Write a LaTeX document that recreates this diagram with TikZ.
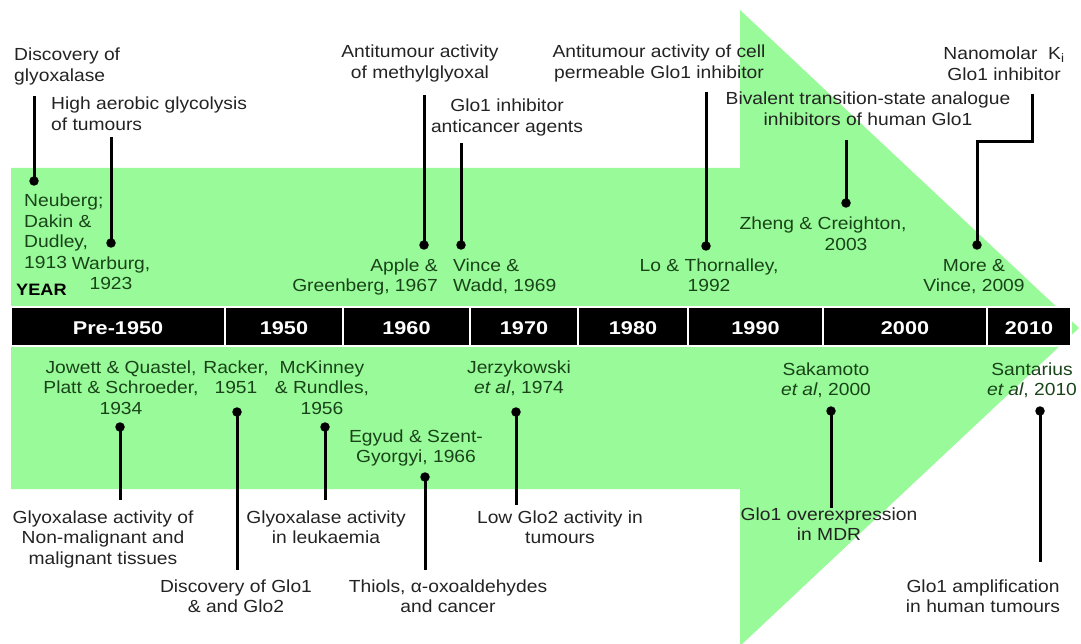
\documentclass[tikz,border=0pt]{standalone}
\usepackage{fontspec}
\setmainfont{Liberation Sans}[FakeStretch=1.1]
\newfontfamily\barfont{Liberation Sans}[FakeStretch=1.17]
\definecolor{arrowgreen}{RGB}{152,250,152}
\definecolor{ink}{RGB}{35,35,35}
\definecolor{gink}{RGB}{25,68,25}
\tikzset{
  lbl/.style={font=\fontsize{17.5}{20.5}\selectfont, align=center, inner sep=0pt, anchor=base, text=ink},
  glbl/.style={lbl, text=gink},
  two/.style={yshift=-20.5pt},
  three/.style={yshift=-41pt},
  four/.style={yshift=-61.5pt},
  seg/.style={rectangle, fill=black, draw=white, line width=1.5pt, minimum height=39pt, inner sep=0pt,
     text=white, font=\barfont\bfseries\fontsize{18.5}{20}\selectfont, text height=16pt, text depth=0pt},
  dotn/.style={circle, fill=black, minimum size=9.5pt, inner sep=0pt},
  stem/.style={line width=3pt, black}
}
\begin{document}
\begin{tikzpicture}[x=1pt,y=-1pt]
\useasboundingbox (0,0) rectangle (1081,644);
% green arrow
\fill[arrowgreen] (11,168) -- (740,168) -- (740,10) -- (1079,328) -- (740,646) -- (740,489) -- (11,489) -- cycle;
% timeline bar
\node[seg, minimum width=214pt] (s1) at (118,326.5) {Pre-1950};
\node[seg, minimum width=118pt] (s2) at (284,326.5) {1950};
\node[seg, minimum width=127pt] (s3) at (406.5,326.5) {1960};
\node[seg, minimum width=108pt] (s4) at (524,326.5) {1970};
\node[seg, minimum width=110pt] (s5) at (633,326.5) {1980};
\node[seg, minimum width=135pt] (s6) at (755.5,326.5) {1990};
\node[seg, minimum width=164pt] (s7) at (905,326.5) {2000};
\node[seg, minimum width=84pt] (s8) at (1029,326.5) {2010};
\node[lbl, anchor=base west, text=black, font=\bfseries\fontsize{16.5}{18}\selectfont] (year) at (16,295) {YEAR};

% ---- top events ----
\node[lbl, two, align=left, anchor=base west] (disc) at (14,61) {Discovery of\\glyoxalase};
\node[lbl, two, align=left, anchor=base west] (high) at (51,110) {High aerobic glycolysis\\of tumours};
\node[glbl, four, align=left, anchor=base west] (neub) at (24,207) {Neuberg;\\Dakin \&\\Dudley,\\1913};
\node[glbl, two] (warb) at (111,269) {Warburg,\\1923};
\node[lbl, two] (antim) at (420,58) {Antitumour activity\\of methylglyoxal};
\node[lbl, two] (gloinh) at (507,112) {Glo1 inhibitor\\anticancer agents};
\node[glbl, two, align=right, anchor=base east] (apple) at (438,271) {Apple \&\\Greenberg, 1967};
\node[glbl, two, align=left, anchor=base west] (vince) at (453,271) {Vince \&\\Wadd, 1969};
\node[lbl, two] (antic) at (659,58) {Antitumour activity of cell\\permeable Glo1 inhibitor};
\node[glbl, two] (lo) at (709,271) {Lo \& Thornalley,\\1992};
\node[lbl, two] (biv) at (868,105) {Bivalent transition-state analogue\\inhibitors of human Glo1};
\node[glbl, two] (zheng) at (823,230) {Zheng \& Creighton,\\\hspace*{46pt}2003};
\node[lbl, two] (nano) at (1004,60) {Nanomolar\ \ K\textsubscript{i}\\Glo1 inhibitor};
\node[glbl, two] (more) at (974,271) {More \&\\Vince, 2009};

\node[dotn] (d1) at (34,181) {};
\node[dotn] (d2) at (111,243) {};
\node[dotn] (d3) at (424,245) {};
\node[dotn] (d4) at (461,245) {};
\node[dotn] (d5) at (706,246) {};
\node[dotn] (d6) at (846,203) {};
\node[dotn] (d7) at (977,245) {};
\coordinate (t1) at (34,96);
\coordinate (t2) at (111,137);
\coordinate (t3) at (424,95);
\coordinate (t4) at (461,143);
\coordinate (t5) at (706,92);
\coordinate (t6) at (846,140);
\coordinate (t7) at (1032,94);
\coordinate (k7) at (1032,142);
\draw[stem] (t1) -- (d1.center);
\draw[stem] (t2) -- (d2.center);
\draw[stem] (t3) -- (d3.center);
\draw[stem] (t4) -- (d4.center);
\draw[stem] (t5) -- (d5.center);
\draw[stem] (t6) -- (d6.center);
\draw[stem] (t7) -- (k7) -| (d7.center);

% ---- bottom events ----
\node[glbl, three] (jow) at (121,373) {Jowett \& Quastel,\\Platt \& Schroeder,\\1934};
\node[lbl, three] (glyo) at (103,523) {Glyoxalase activity of\\Non-malignant and\\malignant tissues};
\node[glbl, two] (rack) at (236,373) {Racker,\\1951};
\node[lbl, two] (discg) at (236,592) {Discovery of Glo1\\\& and Glo2};
\node[glbl, three] (mck) at (322,373) {McKinney\\\& Rundles,\\1956};
\node[lbl, two] (glyl) at (326,523) {Glyoxalase activity\\in leukaemia};
\node[glbl, two] (egy) at (416,442) {Egyud \& Szent-\\Gyorgyi, 1966};
\node[lbl, two] (thiol) at (448,592) {Thiols, α-oxoaldehydes\\and cancer};
\node[glbl, two] (jerz) at (519,373) {Jerzykowski\\\textit{et al}, 1974};
\node[lbl, two] (low) at (560,523) {Low Glo2 activity in\\tumours};
\node[glbl, two] (saka) at (826,375) {Sakamoto\\\textit{et al}, 2000};
\node[lbl, two] (gloov) at (829,520) {Glo1 overexpression\\in MDR};
\node[glbl, two] (sant) at (1032,375) {Santarius\\\textit{et al}, 2010};
\node[lbl, two] (amp) at (983,592) {Glo1 amplification\\in human tumours};

\node[dotn] (e1) at (120,427) {};
\node[dotn] (e2) at (237,412) {};
\node[dotn] (e3) at (325,427) {};
\node[dotn] (e4) at (425,477) {};
\node[dotn] (e5) at (516,412) {};
\node[dotn] (e6) at (831,411) {};
\node[dotn] (e7) at (1040,411) {};
\coordinate (b1) at (120,500);
\coordinate (b2) at (237,570);
\coordinate (b3) at (325,500);
\coordinate (b4) at (425,570);
\coordinate (b5) at (516,505);
\coordinate (b6) at (831,508);
\coordinate (b7) at (1040,562);
\draw[stem] (e1.center) -- (b1);
\draw[stem] (e2.center) -- (b2);
\draw[stem] (e3.center) -- (b3);
\draw[stem] (e4.center) -- (b4);
\draw[stem] (e5.center) -- (b5);
\draw[stem] (e6.center) -- (b6);
\draw[stem] (e7.center) -- (b7);
\end{tikzpicture}
\end{document}
